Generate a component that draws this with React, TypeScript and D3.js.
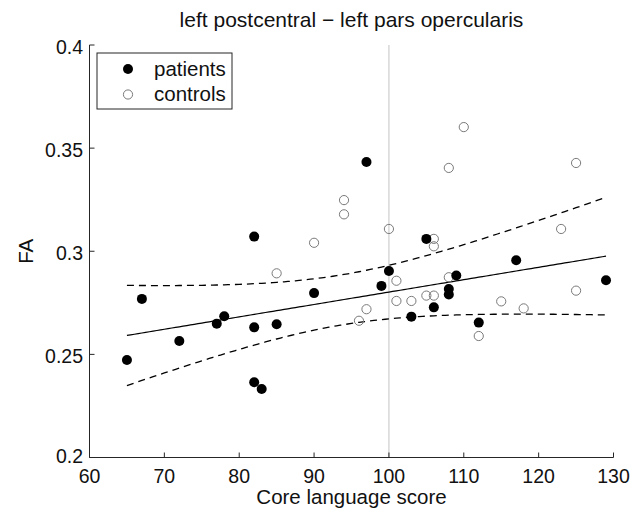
import React from "react";
import * as d3 from "d3";

// Core language score / FA
const patientScore = [65, 67, 72, 77, 78, 82, 82, 82, 83, 85, 90, 97, 99, 100, 103, 105, 106, 108, 108, 109, 112, 117, 129];
const patientFA = [0.2473, 0.2769, 0.2565, 0.2649, 0.2685, 0.3071, 0.2631, 0.2365, 0.2332, 0.2646, 0.2797, 0.3433, 0.2832, 0.2904, 0.2683, 0.306, 0.2728, 0.2817, 0.279, 0.2882, 0.2654, 0.2956, 0.2859];

const controlScore = [85, 90, 94, 94, 96, 97, 100, 101, 101, 103, 105, 106, 106, 106, 108, 108, 110, 112, 115, 118, 123, 125, 125];
const controlFA = [0.2893, 0.3041, 0.3248, 0.3179, 0.2663, 0.2719, 0.3108, 0.2857, 0.2759, 0.2759, 0.2785, 0.306, 0.3024, 0.2785, 0.3404, 0.2874, 0.3602, 0.2589, 0.2757, 0.2723, 0.3108, 0.3428, 0.2809];

const xTicks = [60, 70, 80, 90, 100, 110, 120, 130];
const yTicks = [0.2, 0.25, 0.3, 0.35, 0.4];
const referenceScore = 100;

// simultaneous (Working-Hotelling) band: sqrt(2 * F(0.95; 2, n-2)), n = 23
const bandFactor = Math.sqrt(2 * 3.4668);

const W = 640;
const H = 509;
const FONT = "'Liberation Sans', Arial, Helvetica, sans-serif";

function fit(xs: number[], ys: number[]) {
  const n = xs.length;
  const mx = d3.mean(xs)!;
  const my = d3.mean(ys)!;
  let sxx = 0, sxy = 0;
  xs.forEach((x, i) => {
    sxx += (x - mx) * (x - mx);
    sxy += (x - mx) * (ys[i] - my);
  });
  const b = sxy / sxx;
  const a = my - b * mx;
  let sse = 0;
  xs.forEach((x, i) => {
    const r = ys[i] - (a + b * x);
    sse += r * r;
  });
  const s = Math.sqrt(sse / (n - 2));
  return { a, b, mx, sxx, s, n };
}

export default function App() {
  const x = d3.scaleLinear().domain([60, 130]).range([89.5, 613.5]);
  const y = d3.scaleLinear().domain([0.2, 0.4]).range([457.5, 45]);

  const f = fit(patientScore, patientFA);
  const grid = d3.range(d3.min(patientScore)!, d3.max(patientScore)! + 0.01, 0.5);
  const half = (v: number) =>
    bandFactor * f.s * Math.sqrt(1 / f.n + ((v - f.mx) * (v - f.mx)) / f.sxx);
  const line = d3
    .line<number[]>()
    .x((d) => x(d[0]))
    .y((d) => y(d[1]));

  const fitPts = grid.map((v) => [v, f.a + f.b * v]);
  const upPts = grid.map((v) => [v, f.a + f.b * v + half(v)]);
  const loPts = grid.map((v) => [v, f.a + f.b * v - half(v)]);

  const x0 = x.range()[0];
  const y0 = y.range()[0];
  const yTop = y.range()[1];
  const axisColor = "#262626";

  return (
    <div>
      <style>{`body{margin:0}`}</style>
      <svg width={W} height={H} style={{ display: "block", background: "#fff" }} fontFamily={FONT}>
        <text x={(x.range()[0] + x.range()[1]) / 2} y={27} textAnchor="middle" fontSize={21} fill="#111">
          left postcentral − left pars opercularis
        </text>

        {/* reference line at 100 */}
        <line x1={x(referenceScore)} x2={x(referenceScore)} y1={yTop} y2={y0} stroke="#c4c4c4" strokeWidth={1} />

        {/* confidence bands + fit */}
        <path d={line(upPts as any)!} fill="none" stroke="#000" strokeWidth={1.3} strokeDasharray="7,5" />
        <path d={line(loPts as any)!} fill="none" stroke="#000" strokeWidth={1.3} strokeDasharray="7,5" />
        <path d={line(fitPts as any)!} fill="none" stroke="#000" strokeWidth={1.2} />

        {/* controls */}
        {controlScore.map((v, i) => (
          <circle key={"c" + i} cx={x(v)} cy={y(controlFA[i])} r={4.6} fill="none" stroke="#7a7a7a" strokeWidth={1} />
        ))}
        {/* patients */}
        {patientScore.map((v, i) => (
          <circle key={"p" + i} cx={x(v)} cy={y(patientFA[i])} r={5} fill="#000" />
        ))}

        {/* axes */}
        <line x1={x0} x2={x0} y1={yTop} y2={y0} stroke={axisColor} strokeWidth={1} />
        <line x1={x0} x2={x.range()[1]} y1={y0} y2={y0} stroke={axisColor} strokeWidth={1} />
        {xTicks.map((t) => (
          <g key={"xt" + t}>
            <line x1={x(t)} x2={x(t)} y1={y0} y2={y0 - 5} stroke={axisColor} strokeWidth={1} />
            <text x={x(t)} y={483} textAnchor="middle" fontSize={19.5} fill="#111">
              {t}
            </text>
          </g>
        ))}
        {yTicks.map((t, i) => (
          <g key={"yt" + t}>
            <line x1={x0} x2={x0 + 5} y1={y(t)} y2={y(t)} stroke={axisColor} strokeWidth={1} />
            <text x={83} y={y(t) + (i === 0 ? 5 : 9)} textAnchor="end" fontSize={19.5} fill="#111">
              {t}
            </text>
          </g>
        ))}

        <text x={x(95)} y={504} textAnchor="middle" fontSize={20.5} fill="#111">
          Core language score
        </text>
        <text
          transform={`translate(33,${(yTop + y0) / 2}) rotate(-90)`}
          textAnchor="middle"
          fontSize={20.5}
          fill="#111"
        >
          FA
        </text>

        {/* legend */}
        <rect x={97} y={53} width={135} height={56} fill="#fff" stroke={axisColor} strokeWidth={1} />
        <circle cx={128} cy={69} r={5} fill="#000" />
        <circle cx={128} cy={94.5} r={4.6} fill="none" stroke="#7a7a7a" strokeWidth={1} />
        <text x={154} y={76} fontSize={20.5} fill="#111">
          patients
        </text>
        <text x={154} y={101} fontSize={20.5} fill="#111">
          controls
        </text>
      </svg>
    </div>
  );
}
